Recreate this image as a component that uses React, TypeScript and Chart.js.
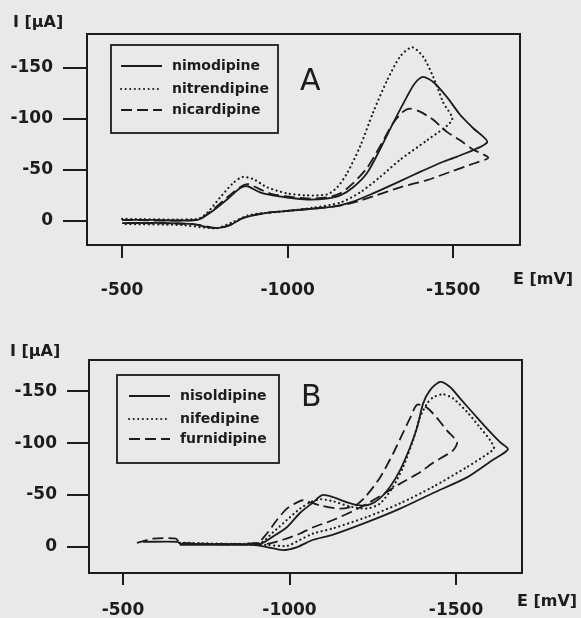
import React, { useEffect, useRef } from "react";
import { Chart, registerables } from "chart.js";

Chart.register(...registerables);

// Axis ticks (potential in mV, current in µA; cathodic current plotted upward)
const E_TICKS = [-500, -1000, -1500];
const I_TICKS = [-150, -100, -50, 0];

// ---- Panel A ----
const nimodipineE = [-500, -585, -727, -766, -817, -856, -878, -917, -956, -998, -1059, -1119, -1159, -1198, -1240, -1279, -1319, -1361, -1385, -1409, -1440, -1482, -1521, -1560, -1603,
  -1512, -1470, -1400, -1340, -1258, -1198, -1137, -1038, -938, -866, -826, -787, -757, -714, -636, -500];
const nimodipineI = [-1, -1, -1, -8, -21, -32, -34, -28, -25, -23, -21, -22, -25, -33, -47, -70, -96, -122, -135, -141, -136, -121, -104, -91, -77,
  -63, -58, -48, -39, -27, -19, -14, -11, -8, -3, 4, 7, 6, 3, 2, 2];

const nitrendipineE = [-500, -727, -757, -796, -835, -863, -896, -938, -998, -1059, -1119, -1150, -1180, -1219, -1258, -1301, -1340, -1376, -1409, -1440, -1470, -1497,
  -1421, -1340, -1279, -1219, -1159, -1077, -977, -887, -835, -787, -736, -684, -500];
const nitrendipineI = [-2, -2, -8, -23, -37, -43, -41, -33, -27, -25, -26, -33, -47, -73, -106, -138, -161, -170, -161, -141, -116, -99,
  -79, -60, -43, -28, -18, -13, -9, -6, 1, 7, 6, 4, 3];

const nicardipineE = [-500, -727, -766, -817, -856, -881, -917, -956, -998, -1059, -1119, -1159, -1198, -1240, -1279, -1319, -1349, -1370, -1400, -1440, -1482, -1521, -1560, -1606,
  -1560, -1491, -1421, -1340, -1258, -1198, -1137, -1038, -938, -866, -826, -787, -714, -500];
const nicardipineI = [-1, -1, -9, -23, -33, -36, -31, -26, -24, -22, -23, -27, -37, -52, -73, -96, -107, -110, -107, -99, -87, -79, -70, -62,
  -56, -48, -40, -33, -24, -18, -14, -11, -8, -3, 4, 7, 3, 2];

// ---- Panel B ----
const nisoldipineE = [-560, -665, -671, -911, -950, -992, -1032, -1071, -1098, -1131, -1173, -1212, -1242, -1272, -1302, -1332, -1362, -1383, -1401, -1422, -1452, -1482, -1512, -1551, -1593, -1632, -1656,
  -1611, -1533, -1431, -1332, -1233, -1131, -1071, -1023, -980, -932, -890, -671];
const nisoldipineI = [-5, -5, -3, -3, -10, -19, -33, -43, -50, -48, -43, -40, -41, -47, -58, -74, -96, -115, -138, -151, -159, -154, -143, -129, -114, -101, -94,
  -84, -67, -52, -37, -24, -12, -7, 0, 3, 0, -2, -2];

const nifedipineE = [-671, -911, -950, -992, -1032, -1062, -1092, -1131, -1182, -1233, -1272, -1311, -1341, -1371, -1392, -1413, -1431, -1461, -1491, -1533, -1572, -1602, -1614,
  -1596, -1533, -1431, -1332, -1233, -1131, -1071, -1032, -992, -932, -671];
const nifedipineI = [-4, -4, -14, -26, -37, -43, -46, -44, -39, -37, -42, -58, -77, -103, -125, -138, -144, -147, -143, -130, -115, -103, -95,
  -90, -77, -58, -42, -29, -18, -13, -7, -1, -2, -3];

const furnidipineE = [-542, -590, -659, -671, -902, -932, -962, -992, -1023, -1041, -1092, -1152, -1197, -1227, -1272, -1311, -1341, -1362, -1383, -1413, -1443, -1473, -1503,
  -1491, -1431, -1392, -1332, -1272, -1212, -1131, -1071, -1032, -980, -932, -671];
const furnidipineI = [-4, -8, -8, -4, -4, -13, -26, -37, -43, -45, -40, -37, -40, -48, -67, -90, -110, -124, -137, -134, -124, -112, -101,
  -93, -81, -72, -61, -49, -38, -26, -19, -13, -7, -3, -3];

const INK = "#1c1c1c";
const PAPER = "#e9e9e9";
const TICK_FONT = { family: "'DejaVu Sans', sans-serif", size: 17, weight: "bold" as const };
const TEXT_FONT = "bold 14px 'DejaVu Sans', sans-serif";
const AXIS_TITLE_FONT = "bold 16px 'DejaVu Sans', sans-serif";
const LETTER_FONT = "30px 'DejaVu Sans', sans-serif";

const SOLID: number[] = [];
const DOTTED = [0.1, 4.5];
const DASHED = [11, 5];

type Series = { label: string; e: number[]; i: number[]; dash: number[] };

type Panel = {
  letter: string;
  width: number;
  height: number;
  area: { left: number; right: number; top: number; bottom: number };
  eRange: [number, number];
  iRange: [number, number];
  yTickLen: number;
  yTickPad: number;
  xTickLen: number;
  xTickPad: number;
  yTitle: { x: number; y: number };
  xTitle: { x: number; y: number };
  letterPos: { x: number; y: number };
  legendBox: { x: number; y: number; w: number; h: number };
  legendRows: number[];
  legendLineX: [number, number];
  legendTextX: number;
  series: Series[];
};

const panelA: Panel = {
  letter: "A",
  width: 581,
  height: 300,
  area: { left: 87, right: 520, top: 34, bottom: 245 },
  eRange: [-1702, -394],
  iRange: [-183, 23.5],
  yTickLen: 24,
  yTickPad: 10,
  xTickLen: 13,
  xTickPad: 22,
  yTitle: { x: 13, y: 23 },
  xTitle: { x: 513, y: 280 },
  letterPos: { x: 300, y: 90 },
  legendBox: { x: 111, y: 45, w: 167, h: 88 },
  legendRows: [66, 89, 110],
  legendLineX: [121, 162],
  legendTextX: 172,
  series: [
    { label: "nimodipine", e: nimodipineE, i: nimodipineI, dash: SOLID },
    { label: "nitrendipine", e: nitrendipineE, i: nitrendipineI, dash: DOTTED },
    { label: "nicardipine", e: nicardipineE, i: nicardipineI, dash: DASHED },
  ],
};

const panelB: Panel = {
  letter: "B",
  width: 581,
  height: 318,
  area: { left: 89, right: 522, top: 60, bottom: 273 },
  eRange: [-1698, -398],
  iRange: [-180, 25],
  yTickLen: 22,
  yTickPad: 10,
  xTickLen: 12,
  xTickPad: 15,
  yTitle: { x: 10, y: 52 },
  xTitle: { x: 517, y: 302 },
  letterPos: { x: 301, y: 106 },
  legendBox: { x: 117, y: 75, w: 162, h: 88 },
  legendRows: [96, 119, 139],
  legendLineX: [129, 170],
  legendTextX: 180,
  series: [
    { label: "nisoldipine", e: nisoldipineE, i: nisoldipineI, dash: SOLID },
    { label: "nifedipine", e: nifedipineE, i: nifedipineI, dash: DOTTED },
    { label: "furnidipine", e: furnidipineE, i: furnidipineI, dash: DASHED },
  ],
};

// Frame, legend, axis titles and panel letter
const decorPlugin = {
  id: "decor",
  afterDraw(chart: any, _args: any, opts: any) {
    const p: Panel = opts.panel;
    if (!p) return;
    const { ctx, chartArea: a } = chart;
    ctx.save();
    ctx.strokeStyle = INK;
    ctx.fillStyle = INK;
    ctx.lineWidth = 2;
    ctx.setLineDash([]);
    ctx.strokeRect(a.left, a.top, a.right - a.left, a.bottom - a.top);

    // legend
    const b = p.legendBox;
    ctx.lineWidth = 1.8;
    ctx.strokeRect(b.x, b.y, b.w, b.h);
    ctx.font = TEXT_FONT;
    ctx.textBaseline = "middle";
    ctx.textAlign = "left";
    p.series.forEach((s, k) => {
      const y = p.legendRows[k];
      ctx.beginPath();
      ctx.lineWidth = 2;
      ctx.lineCap = s.dash === DOTTED ? "round" : "butt";
      ctx.setLineDash(s.dash);
      ctx.moveTo(p.legendLineX[0], y);
      ctx.lineTo(p.legendLineX[1], y);
      ctx.stroke();
      ctx.setLineDash([]);
      ctx.fillText(s.label, p.legendTextX, y);
    });

    // axis titles
    ctx.font = AXIS_TITLE_FONT;
    ctx.fillText("I [µA]", p.yTitle.x, p.yTitle.y);
    ctx.fillText("E [mV]", p.xTitle.x, p.xTitle.y);

    // panel letter
    ctx.font = LETTER_FONT;
    ctx.textBaseline = "alphabetic";
    ctx.fillText(p.letter, p.letterPos.x, p.letterPos.y);
    ctx.restore();
  },
};

function VoltammogramPanel({ panel }: { panel: Panel }) {
  const ref = useRef<HTMLCanvasElement>(null);

  useEffect(() => {
    if (!ref.current) return;
    const p = panel;
    const chart = new Chart(ref.current, {
      type: "scatter",
      data: {
        datasets: p.series.map((s) => ({
          label: s.label,
          data: s.e.map((e, k) => ({ x: e, y: s.i[k] })),
          showLine: true,
          borderColor: INK,
          borderWidth: s.dash === DOTTED ? 2.2 : 1.8,
          borderDash: s.dash,
          borderCapStyle: s.dash === DOTTED ? "round" : "butt",
          pointRadius: 0,
          tension: 0.25,
          fill: false,
        })),
      },
      options: {
        animation: false,
        responsive: false,
        events: [],
        layout: {
          padding: { left: 0, top: p.area.top, right: p.width - p.area.right, bottom: 0 },
        },
        plugins: {
          legend: { display: false },
          tooltip: { enabled: false },
          decor: { panel: p },
        } as any,
        scales: {
          x: {
            type: "linear",
            reverse: true,
            min: p.eRange[0],
            max: p.eRange[1],
            afterBuildTicks: (s: any) => {
              s.ticks = E_TICKS.map((v) => ({ value: v }));
            },
            afterFit: (s: any) => {
              s.height = p.height - p.area.bottom;
            },
            grid: { drawOnChartArea: false, drawTicks: true, tickLength: p.xTickLen, color: INK, lineWidth: 2 },
            border: { display: false },
            ticks: { padding: p.xTickPad, color: INK, font: TICK_FONT, maxRotation: 0, callback: (v: any) => String(v) },
          },
          y: {
            type: "linear",
            reverse: true,
            min: p.iRange[0],
            max: p.iRange[1],
            afterBuildTicks: (s: any) => {
              s.ticks = I_TICKS.map((v) => ({ value: v }));
            },
            afterFit: (s: any) => {
              s.width = p.area.left;
            },
            grid: { drawOnChartArea: false, drawTicks: true, tickLength: p.yTickLen, color: INK, lineWidth: 2 },
            border: { display: false },
            ticks: { padding: p.yTickPad, color: INK, font: TICK_FONT, callback: (v: any) => String(v) },
          },
        },
      },
      plugins: [decorPlugin],
    } as any);
    return () => chart.destroy();
  }, [panel]);

  return (
    <canvas
      ref={ref}
      width={panel.width}
      height={panel.height}
      style={{ display: "block", width: panel.width, height: panel.height }}
    />
  );
}

export default function App() {
  return (
    <div
      style={{
        position: "fixed",
        left: 0,
        top: 0,
        width: 581,
        height: 618,
        background: PAPER,
        overflow: "hidden",
      }}
    >
      <VoltammogramPanel panel={panelA} />
      <VoltammogramPanel panel={panelB} />
    </div>
  );
}
